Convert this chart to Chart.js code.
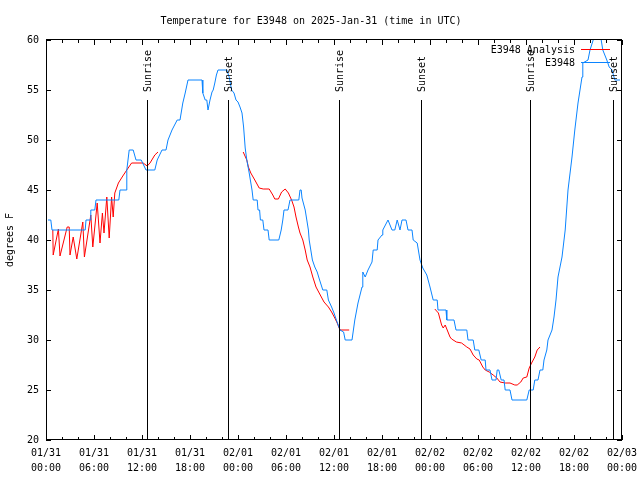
<!DOCTYPE html>
<html>
<head>
<meta charset="utf-8">
<title>E3948 temperature</title>
<script src="https://cdn.jsdelivr.net/npm/chart.js@4"></script>
<style>
  html, body { margin: 0; padding: 0; background: #fff; }
</style>
</head>
<body>
<canvas id="myChart" width="640" height="480"></canvas>
<script>
// hours since 01/31 00:00 UTC
const obsHours = [0.25, 0.6, 0.75, 4.9, 5.0, 5.5, 5.6, 6.1, 6.25, 9.1, 9.25, 10.0, 10.1, 10.4, 10.9, 11.25, 11.9, 12.5, 13.6, 13.9,
  14.5, 15.0, 15.25, 15.75, 16.4, 16.75, 17.1, 17.4, 17.75, 19.5, 19.6, 19.9, 20.1, 20.25, 20.5, 20.75, 20.9, 21.1, 21.3, 21.5,
  22.6, 22.9, 23.2, 23.5, 23.75, 24.0, 24.25, 24.5, 24.7, 24.9, 25.1, 25.4, 25.75, 25.9, 26.4, 26.5, 26.7, 26.8, 27.1, 27.25,
  27.75, 27.9, 29.1, 29.4, 29.6, 29.75, 30.25, 30.5, 31.6, 31.75, 31.9, 32.0, 32.4, 32.6, 32.8, 32.9, 33.1, 33.3, 33.6, 33.9,
  34.2, 34.6, 35.1, 35.3, 35.7, 36.0, 36.3, 36.75, 37.2, 37.4, 38.25, 38.6, 39.0, 39.5, 39.6, 39.9, 40.25, 40.75, 40.9, 41.4,
  41.5, 42.0, 42.1, 42.75, 43.25, 43.6, 43.9, 44.25, 44.5, 45.0, 45.25, 45.75, 45.9, 46.4, 46.75, 47.1, 47.6, 48.0, 48.4, 48.9,
  49.0, 50.0, 50.1, 51.0, 51.25, 52.6, 52.75, 53.4, 53.6, 54.1, 54.4, 54.9, 55.0, 55.5, 55.75, 56.25, 56.4, 56.6, 56.9, 57.25,
  57.4, 58.0, 58.25, 60.1, 60.4, 60.9, 61.1, 61.5, 61.75, 62.1, 62.25, 62.6, 62.75, 63.25, 63.5, 63.75, 64.0, 64.5, 64.9, 65.25,
  65.75, 66.1, 66.5, 67.0, 67.1, 67.75, 68.0, 68.4, 68.75, 69.1, 69.4, 69.6, 70.1, 70.4, 70.75, 71.1, 71.75];
const obsTemps = [42, 42, 41, 41, 42, 42, 43, 43, 44, 44, 45, 45, 47, 49, 49, 48, 48, 47, 47, 48,
  49, 49, 50, 51, 52, 52, 53.7, 54.7, 56, 56, 54.7, 54, 54, 53, 54, 54.8, 55, 55.7, 56.5, 57,
  57, 56.3, 55, 54.7, 54, 53.8, 53.3, 52.7, 51.3, 49.2, 48, 46.7, 45, 44, 44, 43, 43, 42, 42, 41,
  41, 40, 40, 41, 42, 43, 43, 44, 44, 45, 45, 44.2, 43, 42, 41, 40, 39, 38, 37.3, 36.8,
  36, 35, 35, 34, 33.3, 32.7, 32, 31, 30.8, 30, 30, 32, 33.7, 35.3, 36.8, 36.3, 37, 37.8, 39, 39,
  40, 40.5, 41, 42, 41, 41, 42, 41, 42, 42, 41, 41, 40, 39.7, 38, 37.2, 36.5, 35.3, 34, 34,
  33, 33, 32, 32, 31, 31, 30, 30, 29, 29, 28, 28, 27, 27, 26, 26, 27, 27, 26, 26,
  25, 25, 24, 24, 25, 25, 26, 26, 27, 27, 28, 29, 30, 31, 32.3, 34, 36.3, 38.3, 41, 45,
  48.3, 51, 53.7, 56.3, 57.7, 58, 59, 60, 61, 61, 60, 59, 58, 57.3, 57, 56, 56];

// analysis series, null = no analysis for that stretch
const anaHours = [0.85, 0.9, 1.55, 1.75, 2.65, 2.9, 3.0, 3.4, 3.85, 4.6, 4.8, 5.6, 5.85, 6.4, 6.75, 7.05, 7.25, 7.6, 7.9, 8.2,
  8.4, 8.6, 9.05, 9.6, 10.1, 10.7, 12.15, 12.65, 13.0, 13.6, 14.0, 14.1,
  24.65, 25.1, 25.3, 25.6, 26.1, 26.65, 27.15, 27.9, 28.35, 28.6, 29.05, 29.45, 29.9, 30.3, 30.7, 31.0, 31.25, 31.55, 31.75,
  32.1, 32.4, 32.65, 33.0, 33.35, 33.75, 34.15, 34.75, 35.3, 35.7, 36.1, 36.4, 36.75, 37.9, 38.0,
  48.6, 49.05, 49.45, 49.65, 49.9, 50.15, 50.5, 50.7, 51.3, 51.95, 52.6, 53.0, 53.4, 53.85, 54.15, 54.6, 54.9, 55.4, 55.9,
  56.35, 56.75, 57.4, 58.0, 58.6, 58.9, 59.35, 59.65, 60.1, 60.4, 60.7, 61.1, 61.4, 61.75];
const anaTemps = [41, 38.5, 41.1, 38.4, 41.3, 41.3, 38.5, 40.3, 38.1, 41.8, 38.3, 42.5, 39.3, 43.7, 39.7, 42.7, 40.7, 44.3, 40.2, 44.3,
  42.3, 44.7, 45.7, 46.4, 47, 47.7, 47.7, 47.4, 47.7, 48.5, 48.8, null,
  48.8, 48, 47.3, 46.7, 46, 45.2, 45.1, 45.1, 44.5, 44.1, 44.1, 44.8, 45.1, 44.7, 44, 43.3, 42.3, 41.3, 40.7,
  40, 39, 38, 37.3, 36.3, 35.3, 34.7, 33.8, 33.3, 32.8, 32.2, 31.7, 31, 31, null,
  33.1, 32.7, 31.5, 31.2, 31.5, 31, 30.3, 30.1, 29.8, 29.7, 29.3, 29.1, 28.5, 28.1, 28, 27.3, 27, 26.8, 26.5,
  26.2, 25.8, 25.7, 25.7, 25.5, 25.5, 25.8, 26.2, 26.3, 27.2, 27.7, 28.3, 29, 29.3];

const sunLabels = ['Sunrise', 'Sunset', 'Sunrise', 'Sunset', 'Sunrise', 'Sunset'];
const sunHours = [12.65, 22.8, 36.67, 46.85, 60.55, 70.85];
const sunTop = 54;

const xTickLabels = [['01/31', '00:00'], ['01/31', '06:00'], ['01/31', '12:00'], ['01/31', '18:00'],
  ['02/01', '00:00'], ['02/01', '06:00'], ['02/01', '12:00'], ['02/01', '18:00'],
  ['02/02', '00:00'], ['02/02', '06:00'], ['02/02', '12:00'], ['02/02', '18:00'], ['02/03', '00:00']];

const seriesNames = ['E3948 Analysis', 'E3948'];
const seriesColors = ['#ff0000', '#0a84ff'];

const FONT = 'DejaVu Sans Mono';

function toPoints(hours, temps) {
  return hours.map((h, i) => ({x: h, y: temps[i]}));
}

// gnuplot style frame with inward ticks, sun markers and legend
const frame = {
  id: 'frame',
  afterDatasetsDraw(chart) {
    const ctx = chart.ctx;
    const a = chart.chartArea;
    const xs = chart.scales.x, ys = chart.scales.y;
    ctx.save();
    ctx.strokeStyle = '#000';
    ctx.lineWidth = 1;
    ctx.beginPath();
    // ticks
    xs.ticks.forEach(t => {
      const px = Math.round(xs.getPixelForValue(t.value)) + 0.5;
      const len = t.value % 6 === 0 ? 5 : 3;
      ctx.moveTo(px, a.bottom); ctx.lineTo(px, a.bottom - len);
      ctx.moveTo(px, a.top); ctx.lineTo(px, a.top + len);
    });
    ys.ticks.forEach(t => {
      const py = Math.round(ys.getPixelForValue(t.value)) + 0.5;
      ctx.moveTo(a.left, py); ctx.lineTo(a.left + 5, py);
      ctx.moveTo(a.right, py); ctx.lineTo(a.right - 5, py);
    });
    // sunrise / sunset lines
    sunHours.forEach(h => {
      const px = Math.round(xs.getPixelForValue(h)) + 0.5;
      ctx.moveTo(px, ys.getPixelForValue(20));
      ctx.lineTo(px, ys.getPixelForValue(sunTop));
    });
    ctx.stroke();
    ctx.strokeRect(Math.round(a.left) + 0.5, Math.round(a.top) - 0.5,
      Math.round(a.right - a.left) - 1, Math.round(a.bottom - a.top));

    ctx.fillStyle = '#000';
    ctx.font = '10px "' + FONT + '"';
    ctx.textBaseline = 'middle';
    ctx.textAlign = 'left';
    sunHours.forEach((h, i) => {
      const px = Math.round(xs.getPixelForValue(h)) + 1;
      ctx.save();
      ctx.translate(px, ys.getPixelForValue(sunTop) - 8);
      ctx.rotate(-Math.PI / 2);
      ctx.fillText(sunLabels[i], 0, 0);
      ctx.restore();
    });

    // legend
    ctx.textAlign = 'right';
    seriesNames.forEach((name, i) => {
      const y = a.top + 10 + i * 13;
      ctx.fillStyle = '#000';
      ctx.fillText(name, a.right - 47, y);
      ctx.strokeStyle = seriesColors[i];
      ctx.beginPath();
      ctx.moveTo(a.right - 41, Math.round(y) - 0.5);
      ctx.lineTo(a.right - 12, Math.round(y) - 0.5);
      ctx.stroke();
    });
    ctx.restore();
  }
};

const config = {
  type: 'line',
  data: {
    datasets: [{
      label: seriesNames[1],
      data: toPoints(obsHours, obsTemps),
      borderColor: seriesColors[1],
      borderWidth: 1,
      pointRadius: 0,
      order: 1
    }, {
      label: seriesNames[0],
      data: toPoints(anaHours, anaTemps),
      borderColor: seriesColors[0],
      borderWidth: 1,
      pointRadius: 0,
      spanGaps: false,
      order: 2
    }]
  },
  options: {
    responsive: false,
    animation: false,
    layout: {padding: {left: 0, right: 18, top: 0, bottom: 0}},
    plugins: {
      legend: {display: false},
      tooltip: {enabled: false},
      title: {
        display: true,
        text: 'Temperature for E3948 on 2025-Jan-31 (time in UTC)',
        color: '#000',
        font: {family: FONT, size: 10, weight: 'normal'},
        padding: {top: 15, bottom: 13}
      }
    },
    scales: {
      x: {
        type: 'linear',
        min: 0,
        max: 72,
        afterFit: s => { s.height = 40; s.paddingLeft = 0; s.paddingRight = 0; },
        grid: {display: false, drawTicks: false},
        border: {display: false},
        ticks: {
          stepSize: 2,
          autoSkip: false,
          maxRotation: 0,
          padding: 6,
          color: '#000',
          font: {family: FONT, size: 10, lineHeight: 1.5},
          callback: v => (v % 6 === 0 ? xTickLabels[v / 6] : '')
        }
      },
      y: {
        min: 20,
        max: 60,
        afterFit: s => { s.width = 46; },
        grid: {display: false, drawTicks: false},
        border: {display: false},
        title: {
          display: true,
          text: 'degrees F',
          color: '#000',
          font: {family: FONT, size: 10},
          padding: 4
        },
        ticks: {
          stepSize: 5,
          padding: 7,
          color: '#000',
          font: {family: FONT, size: 10}
        }
      }
    }
  },
  plugins: [frame]
};

let myChart = new Chart(document.getElementById('myChart'), config);
</script>
</body>
</html>
